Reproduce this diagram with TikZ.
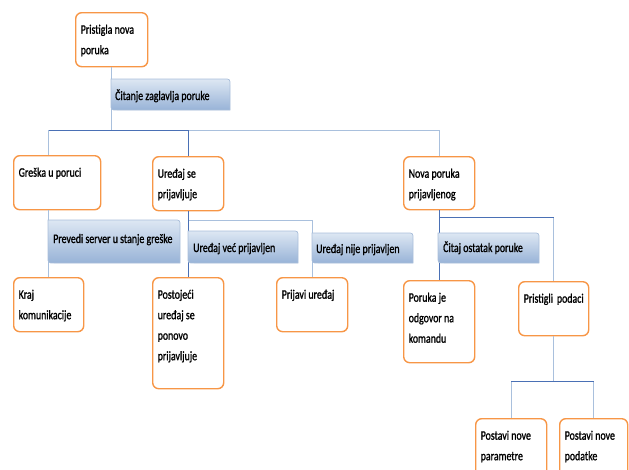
\documentclass[tikz,border=0pt]{standalone}
\usepackage{fontspec}
\setmainfont{Carlito}[FakeStretch=0.76,FakeBold=1.2]
\usetikzlibrary{calc}
\definecolor{orng}{HTML}{F79646}
\definecolor{darkln}{HTML}{4A70B5}
\definecolor{lightln}{HTML}{A9C0DD}
\definecolor{lbltop}{HTML}{DDE7F3}
\definecolor{lblbot}{HTML}{98B3D7}
\definecolor{lbledge}{HTML}{A9BEDA}
\tikzset{
  obox/.style={draw=orng, line width=1.4pt, rounded corners=6pt, fill=white,
    inner xsep=5pt, inner ysep=0pt, anchor=north west},
  lightc/.style={draw=lightln, line width=0.9pt},
  darkc/.style={draw=darkln, line width=0.9pt},
  lblshape/.style={draw=lbledge, line width=0.7pt, top color=lbltop, bottom color=lblbot},
  lbltxt/.style={inner sep=0pt, anchor=base west, font=\fontsize{13pt}{15pt}\selectfont}
}
\newcommand\mybox[6]{\node[obox] (#1) at (#2,#3) {\parbox[c][#5pt][t]{\dimexpr#4pt-10pt\relax}{\fontsize{13pt}{20.5pt}\selectfont\raggedright\rule{0pt}{21pt}#6}};}
\newcommand\mylabel[8]{%
  \shade[lblshape] (#2,#3) -- (#4-6,#3) .. controls (#4,#3) .. (#4,#3+6) -- (#4,#5) -- (#2+6,#5) .. controls (#2,#5) .. (#2,#5-6) -- cycle;
  \node[lbltxt] (#1) at (#6,#7) {#8};}
\begin{document}
\begin{tikzpicture}[x=1pt,y=-1pt]
\useasboundingbox (0,0) rectangle (629,469);
% boxes
\mybox{root}{75}{12}{72}{54}{Pristigla nova\\poruka}
\mybox{greska}{13}{155}{87}{54}{Greška u poruci}
\mybox{uredjaj}{152}{156}{71}{54}{Uređaj se\\prijavljuje}
\mybox{nova}{403}{156}{71}{53}{Nova poruka\\prijavljenog}
\mybox{kraj}{13}{277}{70}{54}{Kraj\\komunikacije}
\mybox{postojeci}{152}{277}{71}{111}{Postojeći\\uređaj se\\ponovo\\prijavljuje}
\mybox{prijavi}{276}{277}{71}{54}{Prijavi uređaj}
\mybox{poruka}{403}{280}{71}{82}{Poruka je\\odgovor na\\komandu}
\mybox{pristigli}{518}{281}{70}{54}{Pristigli\ \ podaci}
\mybox{param}{475}{418}{71}{60}{Postavi nove\\parametre}
\mybox{podatke}{559}{418}{68}{60}{Postavi nove\\podatke}
% junction levels
\coordinate (hA) at (0,130);
\coordinate (hB) at (0,220);
\coordinate (hC) at (0,217);
\coordinate (hD) at (0,381);
% connectors
\draw[lightc] (root.south) -- (root.south |- hA);
\draw[lightc] (kraj.north |- greska.north) -- (kraj.north |- hA);
\draw[lightc] (uredjaj.north |- hA) -- (nova.north |- hA) -- (nova.north);
\draw[darkc] (kraj.north |- hA) -- (uredjaj.north |- hA) -- (uredjaj.north);
\draw[lightc] (kraj.north |- greska.south) -- (kraj.north);
\draw[lightc] (uredjaj.south |- hB) -- (prijavi.north |- hB) -- (prijavi.north);
\draw[darkc] (uredjaj.south) -- (postojeci.north);
\draw[lightc] (pristigli.north |- hC) -- (pristigli.north);
\draw[darkc] (nova.south) -- (poruka.north);
\draw[darkc] (nova.south |- hC) -- (pristigli.north |- hC);
\draw[lightc] (pristigli.south) -- (pristigli.south |- hD);
\draw[lightc] (param.north |- hD) -- (param.north);
\draw[lightc] (podatke.north |- hD) -- (podatke.north);
\draw[darkc] (param.north |- hD) -- (podatke.north |- hD);
% labels
\mylabel{l1}{111}{79}{230}{110}{115}{100}{Čitanje zaglavlja poruke}
\mylabel{l2}{48}{220}{180}{263}{53}{243}{Prevedi server u stanje greške}
\mylabel{l3}{188}{231}{298}{263}{193}{252}{Uređaj već prijavljen}
\mylabel{l4}{312}{233}{413}{263}{316}{253}{Uređaj nije prijavljen}
\mylabel{l5}{438}{233}{539}{263}{443}{252}{Čitaj ostatak poruke}
\end{tikzpicture}
\end{document}
